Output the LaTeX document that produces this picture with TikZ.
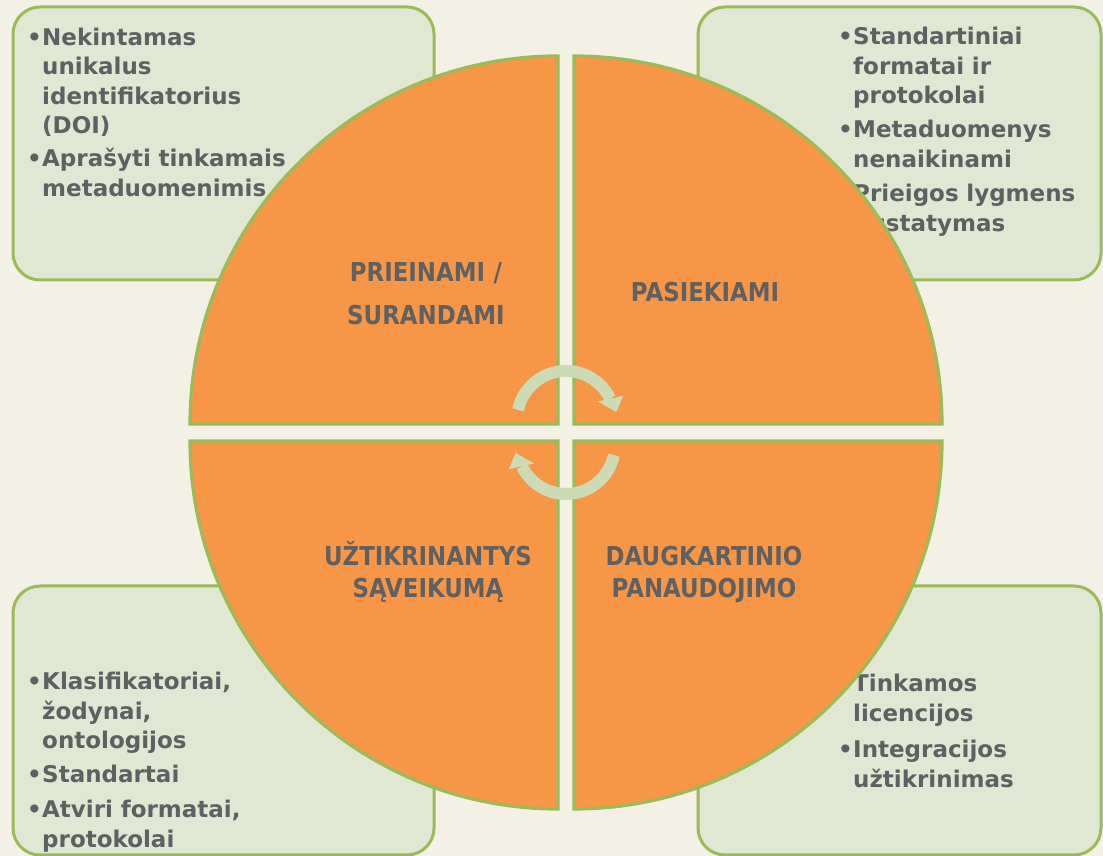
\documentclass[tikz,border=0pt]{standalone}
\usepackage{fontspec}
\usetikzlibrary{calc}
\setmainfont{DejaVu Sans}
\newfontfamily\titlefont[FakeStretch=0.88]{DejaVu Sans}
\definecolor{bg}{HTML}{F3F1E6}
\definecolor{boxfill}{HTML}{E0E8D4}
\definecolor{grn}{HTML}{9BBB59}
\definecolor{org}{HTML}{F79646}
\definecolor{txt}{HTML}{5F6062}
\definecolor{arr}{HTML}{CBDCB6}
\newcommand\bitem[1]{\hangindent=15pt\hangafter=1\noindent\makebox[15pt][l]{•}#1\par}
\tikzset{
  box/.style={draw=grn, line width=3pt, fill=boxfill, rounded corners=27pt},
  quarter/.style={draw=grn, line width=3.2pt, fill=org},
  body/.style={anchor=base west, inner sep=0pt, text width=380pt, text=txt,
    font=\bfseries\fontsize{23}{29.5}\selectfont},
  title/.style={anchor=base, inner sep=0pt, text width=260pt, align=center, text=txt,
    font=\titlefont\bfseries\fontsize{26}{32}\selectfont},
  cyc/.style={draw=arr, line width=12pt},
  cychead/.style={fill=arr},
}
\begin{document}
\begin{tikzpicture}[x=1pt,y=1pt]
\useasboundingbox (0,0) rectangle (1103,856);
\fill[bg] (0,0) rectangle (1103,856);
\clip (0,0) rectangle (1103,856);

% green boxes
\path[box] (13,576) rectangle (434,849);
\path[box] (698,576) rectangle (1101,849);
\path[box] (13,1) rectangle (434,270);
\path[box] (698,1) rectangle (1101,270);

% box texts
\node[body] (tl1) at (27,810.5) {\bitem{Nekintamas\newline unikalus\newline identifikatorius\newline (DOI)}};
\node[body] (tl2) at (27,689) {\bitem{Aprašyti tinkamais\newline metaduomenimis}};
\node[body] (tr1) at (838,811) {\bitem{Standartiniai\newline formatai ir\newline protokolai}};
\node[body] (tr2) at (838,718) {\bitem{Metaduomenys\newline nenaikinami}};
\node[body] (tr3) at (838,654) {\bitem{Prieigos lygmens\newline nustatymas}};
\node[body] (bl1) at (27,166) {\bitem{Klasifikatoriai,\newline žodynai,\newline ontologijos}};
\node[body] (bl2) at (27,73) {\bitem{Standartai}};
\node[body] (bl3) at (27,38) {\bitem{Atviri formatai,\newline protokolai}};
\node[body] (br1) at (838,164) {\bitem{Tinkamos\newline licencijos}};
\node[body] (br2) at (838,98) {\bitem{Integracijos\newline užtikrinimas}};

% quarters
\path[quarter] (558,432) -- (190,432) arc[start angle=180, end angle=90, radius=368] -- cycle;
\path[quarter] (574,432) -- (574,800) arc[start angle=90, end angle=0, radius=368] -- cycle;
\path[quarter] (558,415) -- (558,47) arc[start angle=270, end angle=180, radius=368] -- cycle;
\path[quarter] (574,415) -- (942,415) arc[start angle=0, end angle=-90, radius=368] -- cycle;

% titles
\node[title] (q1) at (426,574) {PRIEINAMI /\\[11pt]SURANDAMI};
\node[title] (q2) at (705,554) {PASIEKIAMI};
\node[title] (q3) at (428,290) {UŽTIKRINANTYS\\SĄVEIKUMĄ};
\node[title] (q4) at (704,290) {DAUGKARTINIO\\PANAUDOJIMO};

% cycle arrows
\coordinate (ca) at (566,436);
\coordinate (cb) at (566,411);
\draw[cyc] ($(ca)+(168:49)$) arc[start angle=168, end angle=26, radius=49];
\fill[cychead] ($(ca)+(30:37)$) -- ($(ca)+(23:62)$) -- ($(ca)+(9:51)$) -- cycle;
\draw[cyc] ($(cb)+(-12:49)$) arc[start angle=-12, end angle=-154, radius=49];
\fill[cychead] ($(cb)+(210:37)$) -- ($(cb)+(203:62)$) -- ($(cb)+(189:51)$) -- cycle;
\end{tikzpicture}
\end{document}
